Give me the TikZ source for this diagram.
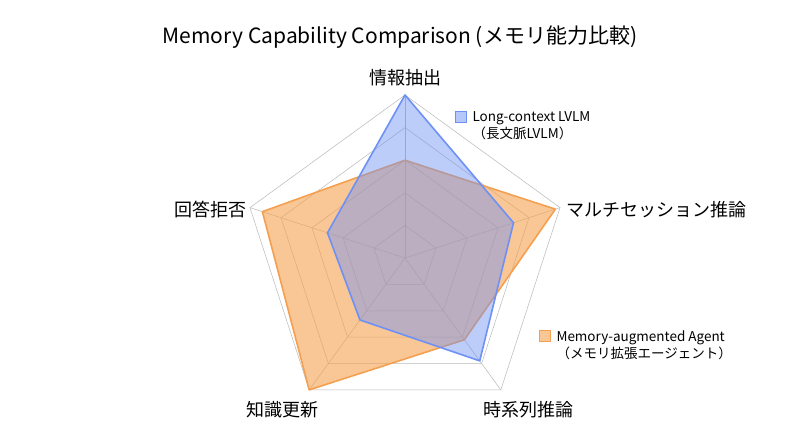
\documentclass[tikz,border=0pt]{standalone}
\usepackage{fontspec}
\setmainfont{Noto Sans CJK JP}
\definecolor{bl}{RGB}{110,145,245}
\definecolor{or}{RGB}{245,160,80}
\begin{document}
\begin{tikzpicture}[x=1pt,y=-1pt,
  grid/.style={draw=gray!55,line width=0.5pt},
  lab/.style={font=\fontsize{18}{20}\selectfont},
  leg/.style={font=\fontsize{13.5}{17}\selectfont,anchor=west,align=left}]
\useasboundingbox (0,0) rectangle (800,447);
\fill[white] (0,0) rectangle (800,447);
\def\R{163}
\coordinate (c) at (405,258);
\foreach \k in {1,...,5}{
 \draw[grid] ([shift={(-90:\k*32.6)}]c) -- ([shift={(-18:\k*32.6)}]c) -- ([shift={(54:\k*32.6)}]c) -- ([shift={(126:\k*32.6)}]c) -- ([shift={(-162:\k*32.6)}]c) -- cycle;
}
\foreach \a in {-90,-18,54,126,-162}{ \draw[grid] (c) -- ([shift={(\a:\R)}]c); }
% orange
\draw[draw=or,line width=1.6pt,fill=or,fill opacity=0.6,line join=round]
 ([shift={(-90:0.6*\R)}]c) -- ([shift={(-18:0.97*\R)}]c) -- ([shift={(54:0.62*\R)}]c) -- ([shift={(126:1.0*\R)}]c) -- ([shift={(-162:0.92*\R)}]c) -- cycle;
% blue
\draw[draw=bl,line width=1.6pt,fill=bl,fill opacity=0.45,line join=round]
 ([shift={(-90:1.0*\R)}]c) -- ([shift={(-18:0.7*\R)}]c) -- ([shift={(54:0.78*\R)}]c) -- ([shift={(126:0.47*\R)}]c) -- ([shift={(-162:0.5*\R)}]c) -- cycle;
\node[font=\fontsize{21}{24}\selectfont] (title) at (400,37) {Memory Capability Comparison (メモリ能力比較)};
\node[lab] (l1) at (405,78) {情報抽出};
\node[lab,anchor=west] (l2) at (563,210) {マルチセッション推論};
\node[lab] (l3) at (528,410) {時系列推論};
\node[lab] (l4) at (282,410) {知識更新};
\node[lab,anchor=east] (l5) at (250,210) {回答拒否};
\node[draw=bl,fill=bl!50,minimum size=11pt,inner sep=0pt] (b1) at (461,117) {};
\node[leg] (t1) at (469,126) {Long-context LVLM\\（長文脈LVLM）};
\node[draw=or,fill=or!60,minimum size=11pt,inner sep=0pt] (b2) at (545,336) {};
\node[leg] (t2) at (553,345) {Memory-augmented Agent\\（メモリ拡張エージェント）};
\end{tikzpicture}
\end{document}
